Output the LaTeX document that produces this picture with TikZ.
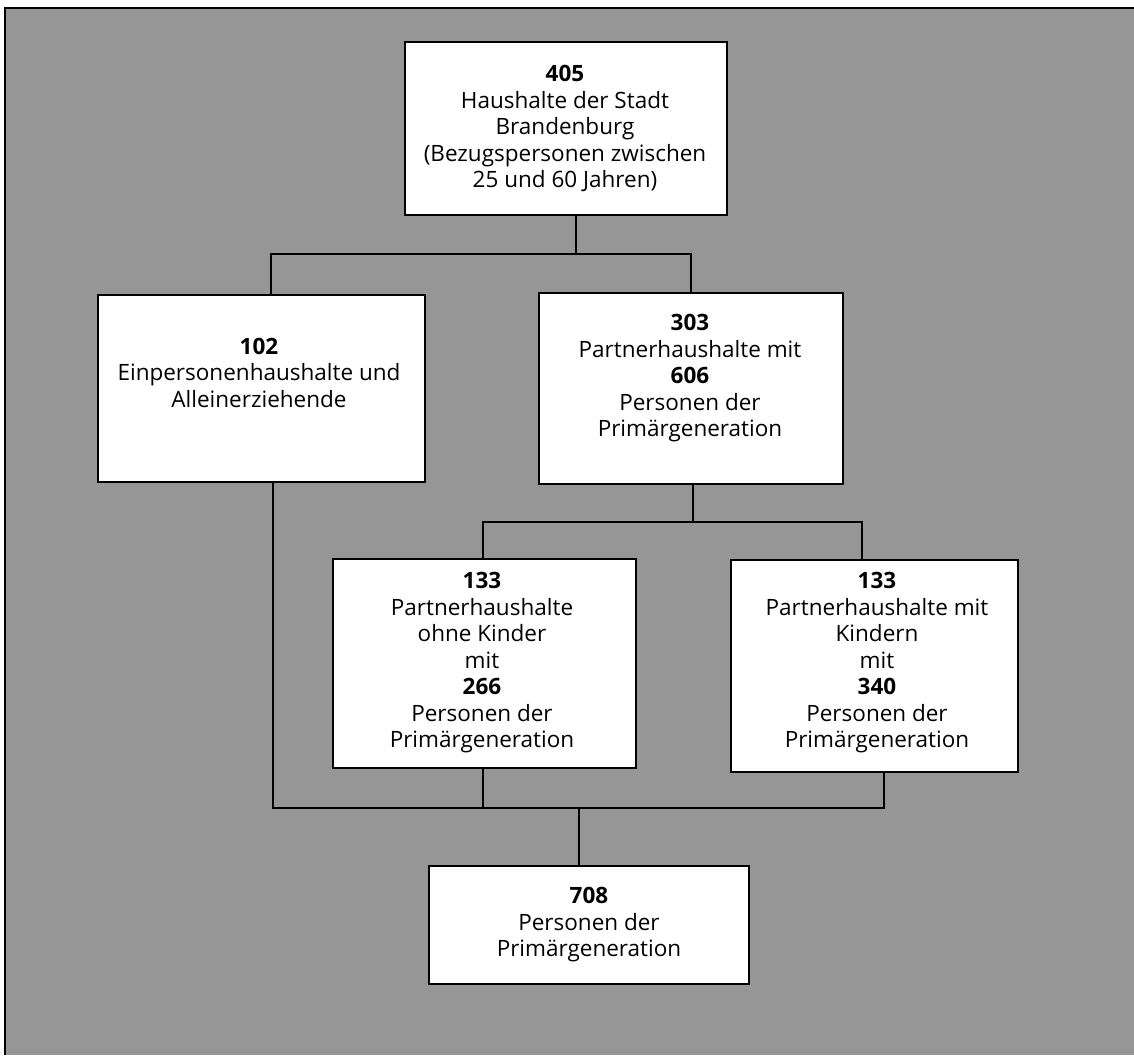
\documentclass[tikz,border=0pt]{standalone}
\usepackage{fontspec}
\setmainfont{Open Sans}
\definecolor{bggray}{RGB}{150,150,150}
\begin{document}
\begin{tikzpicture}[x=1pt,y=-1pt,
  box/.style={draw=black, line width=2.4pt, fill=white, inner sep=0pt, rectangle},
  txt/.style={align=center, inner sep=0pt, anchor=north, font=\fontsize{22.5}{26.5}\selectfont},
  conn/.style={draw=black, line width=1.8pt}]
\useasboundingbox (0,0) rectangle (1134,1055);
\fill[white] (0,0) rectangle (1134,1055);
\fill[bggray] (5,8) rectangle (1134,1055);
\draw[line width=2pt] (5,1055) -- (5,8) -- (1134,8);

% junction coordinates
\coordinate (j0) at (576,254);
\coordinate (jL) at (271,254);
\coordinate (jR) at (691,254);
\coordinate (k0) at (693,522);
\coordinate (kL) at (483,522);
\coordinate (kR) at (862,522);
\coordinate (mL) at (273,808);
\coordinate (mA) at (483,808);
\coordinate (mB) at (884,808);
\coordinate (mC) at (579,808);

% box centres
\path (566,128.5) coordinate (c405);
\path (261.5,388.5) coordinate (c102);
\path (691,388.5) coordinate (c303);
\path (484.5,663.5) coordinate (c133a);
\path (874.5,666) coordinate (c133b);
\path (589,925) coordinate (c708);

% invisible box outlines used as connector anchors
\node[box, draw=none, fill=none, minimum width=322pt, minimum height=173pt] (b405) at (c405) {};
\node[box, draw=none, fill=none, minimum width=327pt, minimum height=187pt] (b102) at (c102) {};
\node[box, draw=none, fill=none, minimum width=304pt, minimum height=191pt] (b303) at (c303) {};
\node[box, draw=none, fill=none, minimum width=303pt, minimum height=209pt] (b133a) at (c133a) {};
\node[box, draw=none, fill=none, minimum width=287pt, minimum height=212pt] (b133b) at (c133b) {};
\node[box, draw=none, fill=none, minimum width=320pt, minimum height=118pt] (b708) at (c708) {};

% connectors
\draw[conn] (b405.south -| j0) -- (j0);
\draw[conn] (jL |- b102.north) -- (jL) -- (jR) -- (jR |- b303.north);
\draw[conn] (b303.south -| k0) -- (k0);
\draw[conn] (kL |- b133a.north) -- (kL) -- (kR) -- (kR |- b133b.north);
\draw[conn] (b102.south -| mL) -- (mL) -- (mB) -- (b133b.south -| mB);
\draw[conn] (b133a.south -| mA) -- (mA);
\draw[conn] (mC) -- (b708.north -| mC);

% visible boxes
\node[box, minimum width=322pt, minimum height=173pt] (f405) at (c405) {};
\node[box, minimum width=327pt, minimum height=187pt] (f102) at (c102) {};
\node[box, minimum width=304pt, minimum height=191pt] (f303) at (c303) {};
\node[box, minimum width=303pt, minimum height=209pt] (f133a) at (c133a) {};
\node[box, minimum width=287pt, minimum height=212pt] (f133b) at (c133b) {};
\node[box, minimum width=320pt, minimum height=118pt] (f708) at (c708) {};

% texts
\node[txt] (t405) at (565,65) {\textbf{405}\\Haushalte der Stadt\\Brandenburg\\(Bezugspersonen zwischen\\25 und 60 Jahren)};
\node[txt] (t102) at (259,337.5) {\textbf{102}\\Einpersonenhaushalte und\\Alleinerziehende};
\node[txt] (t303) at (690,314) {\textbf{303}\\Partnerhaushalte mit\\\textbf{606}\\Personen der\\Primärgeneration};
\node[txt] (t133a) at (482,572) {\textbf{133}\\Partnerhaushalte\\ohne Kinder\\mit\\\textbf{266}\\Personen der\\Primärgeneration};
\node[txt] (t133b) at (877,572) {\textbf{133}\\Partnerhaushalte mit\\Kindern\\mit\\\textbf{340}\\Personen der\\Primärgeneration};
\node[txt] (t708) at (589,887) {\textbf{708}\\Personen der\\Primärgeneration};
\end{tikzpicture}
\end{document}
